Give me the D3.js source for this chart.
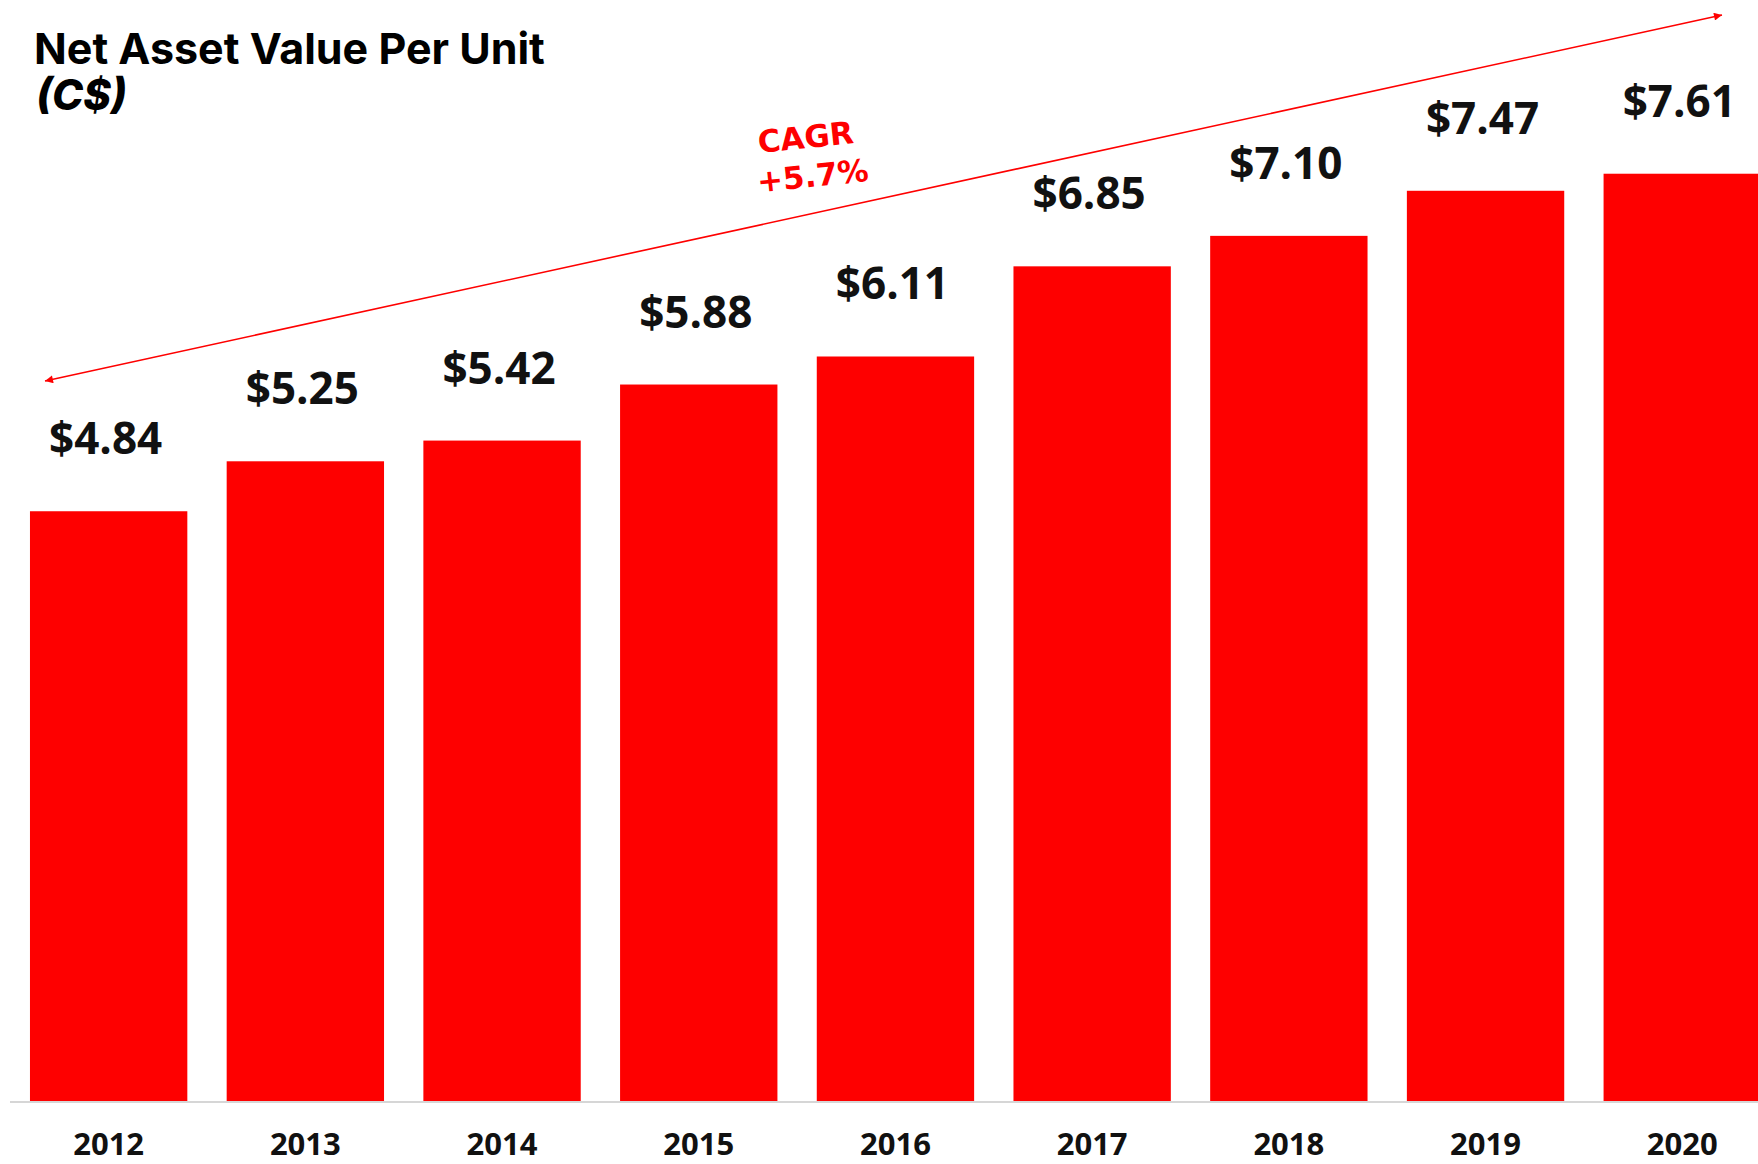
<!DOCTYPE html>
<html>
<head>
<meta charset="utf-8">
<script src="https://cdn.jsdelivr.net/npm/d3@7"></script>
<style>
  html, body { margin: 0; padding: 0; background: #fff; }
  svg { display: block; }
</style>
</head>
<body>
<div class="graph"></div>
<script>
'use strict'

// data
const years = ['2012', '2013', '2014', '2015', '2016', '2017', '2018', '2019', '2020']
const navPerUnit = [4.84, 5.25, 5.42, 5.88, 6.11, 6.85, 7.10, 7.47, 7.61]
const valueLabels = ['$4.84', '$5.25', '$5.42', '$5.88', '$6.11', '$6.85', '$7.10', '$7.47', '$7.61']
const cagrLines = ['CAGR', '+5.7%']

;(function (d3) {
  const width = 1758,
    height = 1164,
    baseY = 1101

  const barColor = '#fe0000'

  const svg = d3.select('.graph').append('svg')
    .attr('width', width)
    .attr('height', height)

  const data = years.map((y, i) => ({ year: y, value: navPerUnit[i], label: valueLabels[i] }))

  const xScale = d3.scaleBand()
    .domain(years)
    .range([10.3, 10.3 + 9 * 196.7])
    .paddingInner(0.2)
    .paddingOuter(0.1)

  const yScale = d3.scaleLinear()
    .domain([0, 9])
    .range([baseY, baseY - 9 * 121.85])

  // bars
  svg.append('g')
    .selectAll('rect')
    .data(data)
    .join('rect')
    .attr('x', d => xScale(d.year))
    .attr('y', d => yScale(d.value))
    .attr('width', xScale.bandwidth())
    .attr('height', d => baseY - yScale(d.value))
    .attr('fill', barColor)

  // baseline
  svg.append('line')
    .attr('x1', 10).attr('x2', width)
    .attr('y1', baseY + 1).attr('y2', baseY + 1)
    .attr('stroke', '#d6d6d6')
    .attr('stroke-width', 2)

  // x axis labels
  const xAxis = svg.append('g')
    .attr('transform', `translate(0,${baseY})`)
    .call(d3.axisBottom(xScale).tickSize(0).tickPadding(54))
  xAxis.select('.domain').remove()
  xAxis.selectAll('text')
    .attr('dy', 0)
    .style('font-family', '"Open Sans", sans-serif')
    .style('font-weight', 700)
    .style('font-size', '31px')
    .attr('fill', '#111')

  // value labels
  svg.append('g')
    .selectAll('text')
    .data(data)
    .join('text')
    .attr('x', d => xScale(d.year) + xScale.bandwidth() / 2 - 3)
    .attr('y', d => yScale(d.value) - 57)
    .attr('text-anchor', 'middle')
    .style('font-family', '"Open Sans", sans-serif')
    .style('font-weight', 700)
    .style('font-size', '44px')
    .attr('fill', '#111')
    .text(d => d.label)

  // title
  svg.append('text')
    .attr('x', 34).attr('y', 64)
    .style('font-family', 'Inter, sans-serif')
    .style('font-weight', 700)
    .style('font-size', '43px')
    .attr('fill', '#000')
    .text('Net Asset Value Per Unit')
  svg.append('text')
    .attr('x', 36).attr('y', 110)
    .style('font-family', 'Inter, sans-serif')
    .style('font-weight', 800)
    .style('font-style', 'italic')
    .style('font-size', '42px')
    .attr('fill', '#000')
    .text('(C$)')

  // CAGR arrow
  const defs = svg.append('defs')
  defs.append('marker')
    .attr('id', 'head')
    .attr('viewBox', '0 0 10 10')
    .attr('refX', 10).attr('refY', 5)
    .attr('markerWidth', 10).attr('markerHeight', 8)
    .attr('markerUnits', 'userSpaceOnUse')
    .attr('orient', 'auto-start-reverse')
    .append('path')
    .attr('d', 'M0,0L10,5L0,10Z')
    .attr('fill', barColor)

  svg.append('line')
    .attr('x1', 45).attr('y1', 381)
    .attr('x2', 1722).attr('y2', 15)
    .attr('stroke', barColor)
    .attr('stroke-width', 1.6)
    .attr('marker-start', 'url(#head)')
    .attr('marker-end', 'url(#head)')

  const cagr = svg.append('text')
    .attr('transform', 'translate(808,160) rotate(-6)')
    .attr('text-anchor', 'middle')
    .style('font-family', '"DejaVu Sans", sans-serif')
    .style('font-weight', 700)
    .style('font-size', '31px')
    .attr('fill', barColor)
  cagr.selectAll('tspan')
    .data(cagrLines)
    .join('tspan')
    .attr('x', (d, i) => i * 3)
    .attr('dy', (d, i) => i === 0 ? -12 : 39)
    .text(d => d)
})(d3)
</script>
</body>
</html>
